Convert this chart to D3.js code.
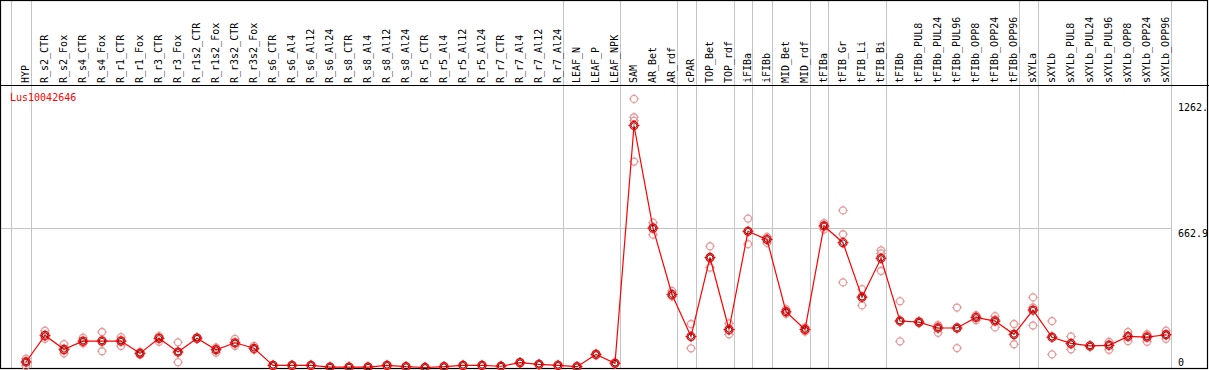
<!DOCTYPE html>
<html><head><meta charset="utf-8">
<script src="https://cdn.jsdelivr.net/npm/d3@7"></script>
<style>html,body{margin:0;padding:0;background:#fff;}svg{display:block;}</style>
</head><body>
<script>
const categories = ["HYP","R_s2_CTR","R_s2_Fox","R_s4_CTR","R_s4_Fox","R_r1_CTR","R_r1_Fox","R_r3_CTR","R_r3_Fox","R_r1s2_CTR","R_r1s2_Fox","R_r3s2_CTR","R_r3s2_Fox","R_s6_CTR","R_s6_Al4","R_s6_Al12","R_s6_Al24","R_s8_CTR","R_s8_Al4","R_s8_Al12","R_s8_Al24","R_r5_CTR","R_r5_Al4","R_r5_Al12","R_r5_Al24","R_r7_CTR","R_r7_Al4","R_r7_Al12","R_r7_Al24","LEAF_N","LEAF_P","LEAF_NPK","SAM","AR_Bet","AR_rdf","cPAR","TOP_Bet","TOP_rdf","iFIBa","iFIBb","MID_Bet","MID_rdf","tFIBa","tFIB_Gr","tFIB_Li","tFIB_Bi","tFIBb","tFIBb_PUL8","tFIBb_PUL24","tFIBb_PUL96","tFIBb_OPP8","tFIBb_OPP24","tFIBb_OPP96","sXYLa","sXYLb","sXYLb_PUL8","sXYLb_PUL24","sXYLb_PUL96","sXYLb_OPP8","sXYLb_OPP24","sXYLb_OPP96"];
// number of consecutive columns in each group (separated by grey lines)
const groupSizes = [1,28,3,3,1,2,1,1,2,1,3,7,1,7];
const meanValues = [26,152,86,125,125,125,67,138,73,139,84,117,91,10,10,10,2,2,2,10,4,0,4,10,10,6,23,15,10,4,62,20,1146,660,346,147,521,180,645,606,264,180,670,591,333,517,220,215,187,187,237,220,157,272,143,114,102,105,147,144,155];
const rep1 = [42,174,111,141,168,144,74,149,119,143,95,136,102,12,12,12,4,4,4,12,6,2,6,12,12,8,26,18,12,6,66,24,1272,686,363,206,574,209,705,618,276,190,684,744,371,555,314,220,201,284,248,243,206,332,220,147,102,122,168,158,174];
const rep2 = [7,136,67,114,77,102,60,122,25,135,70,102,86,8,8,8,1,1,1,8,2,0,2,8,8,4,20,12,8,2,58,16,1185,629,338,91,473,157,584,590,254,170,653,631,294,540,124,210,164,92,224,190,110,199,62,86,105,84,125,122,136];
const rep3 = [29,146,80,120,130,129,67,143,75,139,87,113,85,10,10,10,2,2,2,10,4,0,4,10,10,6,23,15,10,4,62,20,1169,665,337,144,516,174,646,610,262,180,673,403,334,457,222,215,196,185,239,227,155,285,147,109,99,109,148,152,155];
const rep4 = [null,null,null,null,null,null,null,null,null,null,null,null,null,null,null,null,null,null,null,null,null,null,null,null,null,null,null,null,null,null,null,null,975,null,null,null,null,null,null,null,null,null,null,null,null,null,null,null,null,null,null,null,null,null,null,null,null,null,null,null,null];
const yTickValues = [1262, 662.9, 0];
const yTickLabels = ["1262.", "662.9", "0"];
const geneName = "Lus10042646";

const W = 1209, H = 370;
const svg = d3.select("body").append("svg").attr("width", W).attr("height", H);
const font = "'DejaVu Sans Mono', 'Liberation Mono', monospace";

const x = d3.scaleLinear().domain([0, categories.length - 1]).range([26, 1166]);
const y = d3.scaleLinear().domain([0, 1262]).range([367.5, 101]);

// vertical group separators
let bounds = [-1]; let acc = -1;
groupSizes.forEach(s => { acc += s; bounds.push(acc); });
svg.selectAll("line.vg").data(bounds).join("line").attr("class","vg")
  .attr("x1", d => Math.round(x(d) + 4.5) + 0.5).attr("x2", d => Math.round(x(d) + 4.5) + 0.5)
  .attr("y1", 0).attr("y2", 369).attr("stroke", "#c4c4c4").attr("stroke-width", 1);

// horizontal mid grid line
svg.append("line").attr("x1", 0).attr("x2", Math.round(x(categories.length - 1) + 4.5) + 0.5)
  .attr("y1", Math.round(y(662.9)) + 0.5).attr("y2", Math.round(y(662.9)) + 0.5)
  .attr("stroke", "#c4c4c4").attr("stroke-width", 1);

// frame and header separator
svg.append("rect").attr("x", 0.5).attr("y", 0.5).attr("width", 1207).attr("height", 368)
  .attr("fill", "none").attr("stroke", "#000").attr("stroke-width", 1.2);
svg.append("line").attr("x1", 0).attr("x2", W).attr("y1", 85.5).attr("y2", 85.5)
  .attr("stroke", "#000").attr("stroke-width", 1.2);

// column labels
svg.selectAll("text.cat").data(categories).join("text").attr("class","cat")
  .attr("transform", (d, i) => `translate(${x(i) + 2.5},83) rotate(-90)`)
  .attr("font-family", font).attr("font-size", 10).attr("fill", "#000")
  .text(d => d);

// y tick labels
svg.selectAll("text.yt").data(yTickValues).join("text").attr("class","yt")
  .attr("x", 1178).attr("y", (d, i) => i === yTickValues.length - 1 ? y(d) - 1.5 : y(d) + 9.5)
  .attr("font-family", font).attr("font-size", 10).attr("fill", "#000")
  .text((d, i) => yTickLabels[i]);

// gene label
svg.append("text").attr("x", 10).attr("y", 100.5).attr("font-family", font).attr("font-size", 10)
  .attr("fill", "#ff0000").text(geneName);

function marker(g, cx, cy, color, r, sw) {
  g.append("circle").attr("cx", cx).attr("cy", cy).attr("r", r).attr("fill", "none")
    .attr("stroke", color).attr("stroke-width", sw);
  const t = r + 1.5;
  [[0,-1],[0,1],[-1,0],[1,0]].forEach(([dx,dy]) => {
    g.append("line").attr("x1", cx + dx * (r - 0.5)).attr("y1", cy + dy * (r - 0.5))
      .attr("x2", cx + dx * t).attr("y2", cy + dy * t).attr("stroke", color).attr("stroke-width", 1);
  });
}

// replicates
const repG = svg.append("g");
[rep1, rep2, rep3, rep4].forEach(arr => {
  arr.forEach((v, i) => { if (v !== null) marker(repG, x(i), y(v), "#e89a9a", 3.5, 1.3); });
});

// mean line
svg.append("path").datum(meanValues)
  .attr("d", d3.line().x((d, i) => x(i)).y(d => y(d)))
  .attr("fill", "none").attr("stroke", "#ff0000").attr("stroke-width", 1.2);

// mean markers
const mG = svg.append("g");
meanValues.forEach((v, i) => {
  marker(mG, x(i), y(v), "#ff0000", 4, 1.3);
  mG.append("circle").attr("cx", x(i)).attr("cy", y(v)).attr("r", 2.8).attr("fill", "none")
    .attr("stroke", "#400000").attr("stroke-width", 0.8);
});
</script>
</body></html>
